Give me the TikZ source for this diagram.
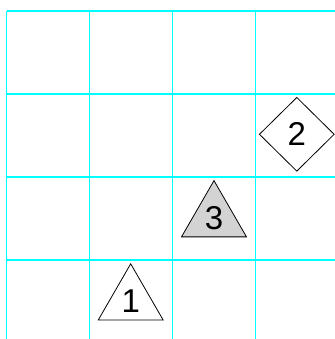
\documentclass[tikz,border=0pt]{standalone}
\usepackage{fontspec}
\setmainfont{Liberation Sans}
\usetikzlibrary{shapes.geometric}
\definecolor{shapegray}{RGB}{211,211,211}
\definecolor{gridcyan}{RGB}{0,255,255}
\tikzset{
  gridline/.style={gridcyan, line width=1.1bp},
  tri/.style={regular polygon, regular polygon sides=3, minimum size=75bp, inner sep=0pt, draw=black, line width=0.8bp, font=\fontsize{33bp}{36bp}\selectfont},
  dia/.style={diamond, minimum width=75bp, minimum height=74bp, inner sep=0pt, draw=black, line width=0.8bp, fill=white, font=\fontsize{33bp}{36bp}\selectfont}
}
\begin{document}
\begin{tikzpicture}[x=1bp, y=-1bp]
\useasboundingbox (0,0) rectangle (335,339);
\fill[white] (0,0) rectangle (335,339);
% grid
\foreach \x in {6.5, 89.5, 172.5, 255.5} {
  \draw[gridline] (\x,11) -- (\x,339);
}
\foreach \y in {11, 94, 177, 260} {
  \draw[gridline] (6.5,\y) -- (335,\y);
}
\node[tri, fill=white] (t1) at (130.7,301.3) {1};
\node[tri, fill=shapegray] (t3) at (214,218.1) {3};
\node[dia] (d2) at (296.8,134.3) {2};
\end{tikzpicture}
\end{document}
